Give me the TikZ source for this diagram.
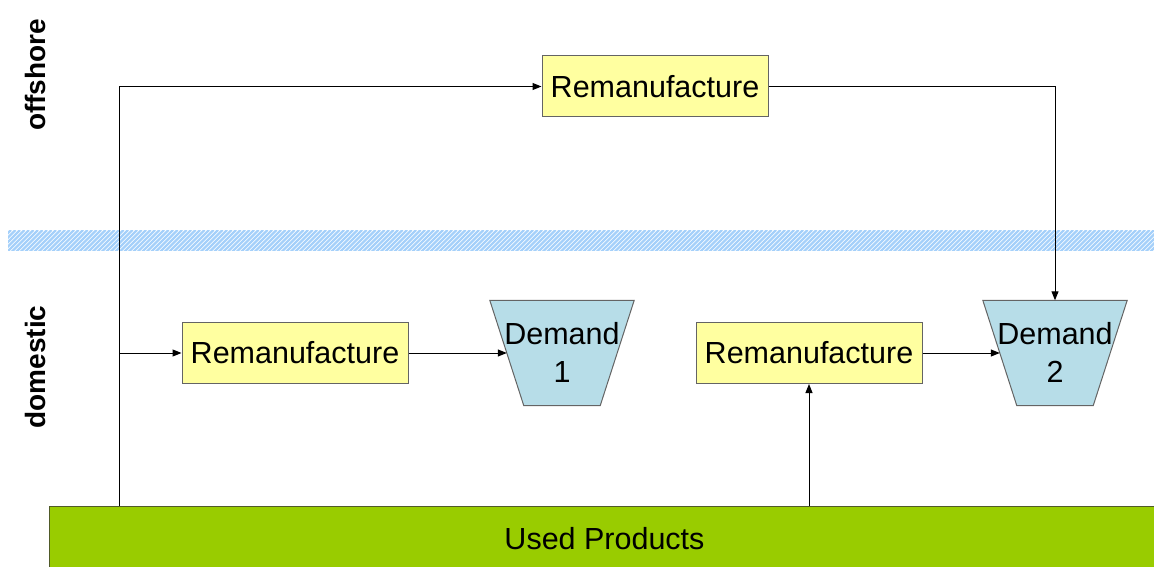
\documentclass[tikz,border=0pt]{standalone}
\usepackage{fontspec}
\setmainfont{Liberation Sans}
\usetikzlibrary{arrows.meta}

\definecolor{boxyellow}{RGB}{255,255,160}
\definecolor{boxedge}{RGB}{100,100,100}
\definecolor{demandblue}{RGB}{183,221,232}
\definecolor{usedgreen}{RGB}{153,204,0}
\definecolor{usededge}{RGB}{80,90,40}
\definecolor{hatchblue}{RGB}{165,208,250}

\tikzset{
  procbox/.style={draw=boxedge, fill=boxyellow, line width=1pt,
    minimum width=226pt, minimum height=61pt, inner sep=0pt,
    font=\fontsize{30.5}{36}\selectfont},
  demandslot/.style={minimum width=144pt, minimum height=105pt, inner sep=0pt},
  demandshape/.style={draw=boxedge, fill=demandblue, line width=1pt},
  demandtext/.style={align=center, inner sep=0pt, font=\fontsize{30.5}{38}\selectfont},
  usedbar/.style={draw=usededge, fill=usedgreen, line width=1pt,
    minimum width=1110pt, minimum height=64pt, inner sep=0pt, anchor=north west,
    font=\fontsize{30.5}{36}\selectfont},
  sidelabel/.style={rotate=90, font=\fontsize{28}{32}\selectfont\bfseries, inner sep=0pt},
  flow/.style={draw=black, line width=1pt, -{Triangle[length=9pt,width=7pt]}},
}

\begin{document}
\begin{tikzpicture}[x=1pt, y=-1pt]
\useasboundingbox (0,0) rectangle (1154,567);

% hatched boundary between offshore and domestic
\begin{scope}
  \clip (8,230) rectangle (1154,250);
  \foreach \i in {0,...,260} {
    \draw[hatchblue, line width=2.2pt] ({\i*4.5-20},252) -- ({\i*4.5+2},230);
  }
\end{scope}

% region labels
\node[sidelabel] (offlbl) at (35,75) {offshore};
\node[sidelabel] (domlbl) at (35,367) {domestic};

% process boxes
\node[procbox] (rt) at (655,86.5) {Remanufacture};
\node[procbox] (r1) at (295,353) {Remanufacture};
\node[procbox] (r2) at (809,353) {Remanufacture};

% demand funnels
\node[demandslot] (d1) at (562,353) {};
\node[demandslot] (d2) at (1055,353) {};
\foreach \d in {d1,d2} {
  \path[demandshape] (\d.north west) -- (\d.north east)
    -- ([xshift=-34pt]\d.south east) -- ([xshift=34pt]\d.south west) -- cycle;
}
\node[demandtext] (d1t) at ([yshift=1pt]d1) {Demand\\1};
\node[demandtext] (d2t) at ([yshift=1pt]d2) {Demand\\2};

% used products supply bar
\node[usedbar] (used) at (49,506) {Used Products};
\coordinate (tap) at (119,506);

% flows
\draw[flow] (tap) |- (rt.west);
\draw[flow] (r1.west -| tap) -- (r1.west);
\draw[flow] (r1.east) -- ([xshift=17pt]d1.west);
\draw[flow] (r2.east) -- ([xshift=17pt]d2.west);
\draw[flow] (rt.east) -| (d2.north);
\draw[flow] (used.north -| r2.south) -- (r2.south);
\end{tikzpicture}
\end{document}
